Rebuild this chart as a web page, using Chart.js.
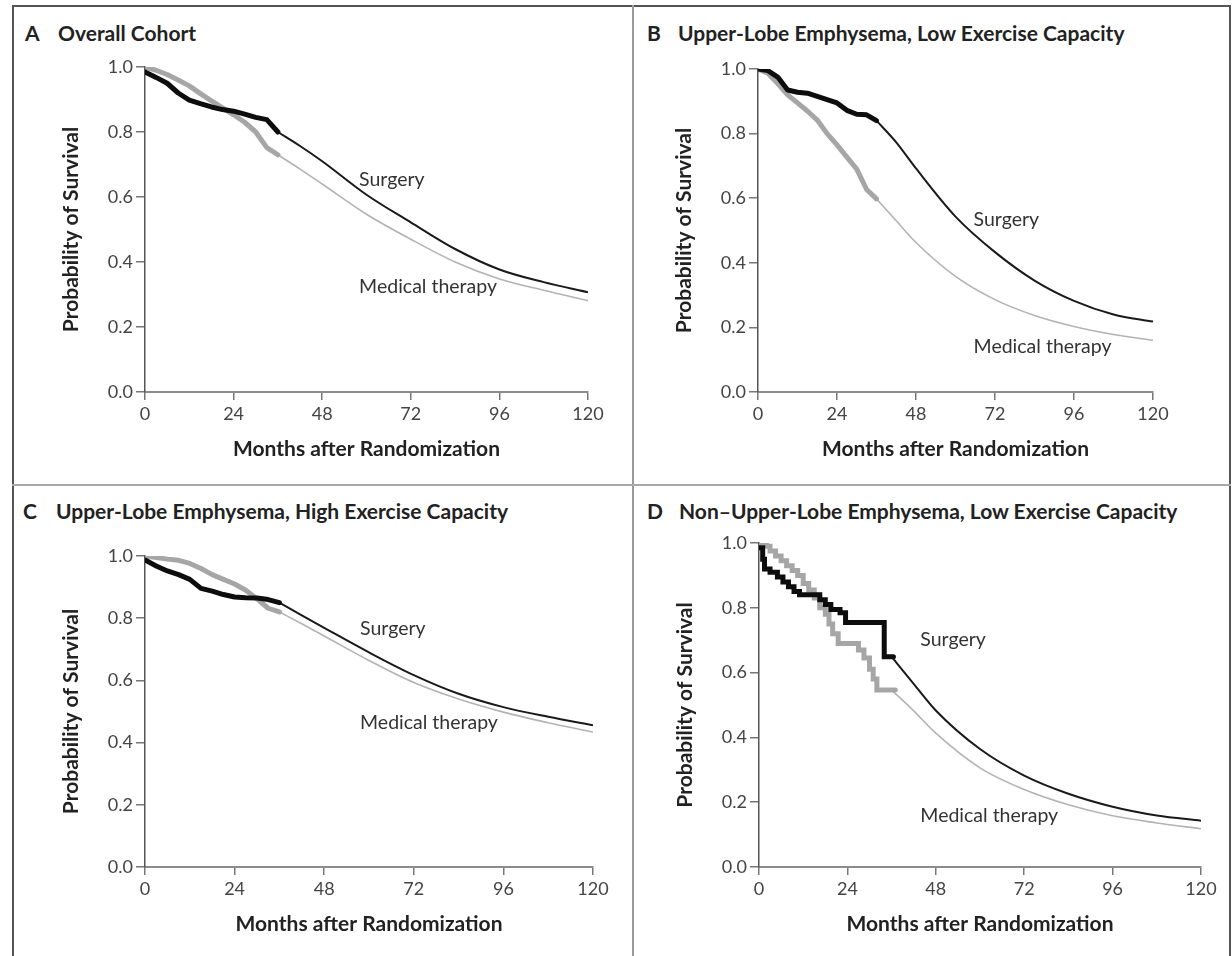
<!DOCTYPE html>
<html lang="en">
<head>
<meta charset="UTF-8">
<title>Survival by subgroup</title>
<script src="https://cdn.jsdelivr.net/npm/chart.js"></script>
<style>
  body { margin: 0; background: #fff; font-family: Lato, sans-serif; }
  #page { position: relative; width: 1232px; height: 956px; overflow: hidden; }
  .frame { position: absolute; left: 12px; top: 5px; width: 1219px; height: 960px;
           border: 2px solid #555; border-bottom: none; box-sizing: border-box; }
  .vline { position: absolute; left: 632px; top: 5px; width: 2px; height: 951px; background: #9a9a9a; }
  .hline { position: absolute; left: 12px; top: 484px; width: 1219px; height: 2px; background: #a8a8a8; }
  canvas { position: absolute; }
  .ttl { position: absolute; font-weight: 700; font-size: 21px; line-height: 24px; color: #222; white-space: nowrap; }
</style>
</head>
<body>
<div id="page">
  <div class="frame"></div>
  <div class="vline"></div>
  <div class="hline"></div>

  <span class="ttl" style="left:25px;top:21px">A</span>
  <span class="ttl" style="left:58px;top:21px">Overall Cohort</span>
  <span class="ttl" style="left:647px;top:21px">B</span>
  <span class="ttl" style="left:678px;top:21px">Upper-Lobe Emphysema, Low Exercise Capacity</span>
  <span class="ttl" style="left:23px;top:499px">C</span>
  <span class="ttl" style="left:56px;top:499px">Upper-Lobe Emphysema, High Exercise Capacity</span>
  <span class="ttl" style="left:647px;top:499px">D</span>
  <span class="ttl" style="left:679px;top:499px">Non–Upper-Lobe Emphysema, Low Exercise Capacity</span>

  <canvas id="chartA" width="633" height="485" style="left:0;top:0"></canvas>
  <canvas id="chartB" width="599" height="485" style="left:633px;top:0"></canvas>
  <canvas id="chartC" width="633" height="471" style="left:0;top:485px"></canvas>
  <canvas id="chartD" width="599" height="471" style="left:633px;top:485px"></canvas>
</div>

<script>
  // axes
  const xTicks = [0, 24, 48, 72, 96, 120];
  const yTicks = [0, 0.2, 0.4, 0.6, 0.8, 1.0];
  const yTickLabels = ['0.0', '0.2', '0.4', '0.6', '0.8', '1.0'];

  // Kaplan-Meier part (months 0-36) and projected part (36-120)
  const kmMonths = [0, 3, 6, 9, 12, 15, 18, 21, 24, 27, 30, 33, 36];
  const projMonths = [36, 42, 48, 60, 72, 84, 96, 108, 120];

  // A - overall cohort
  const surgKmA = [0.985, 0.968, 0.95, 0.92, 0.898, 0.887, 0.877, 0.869, 0.864, 0.855, 0.845, 0.838, 0.80];
  const medKmA = [1.0, 0.99, 0.977, 0.96, 0.942, 0.918, 0.896, 0.874, 0.853, 0.83, 0.80, 0.752, 0.73];
  const surgProjA = [0.80, 0.757, 0.71, 0.607, 0.522, 0.44, 0.377, 0.338, 0.307];
  const medProjA = [0.73, 0.686, 0.64, 0.547, 0.47, 0.40, 0.348, 0.313, 0.281];

  // B - upper-lobe, low exercise capacity
  const surgKmB = [1.0, 0.995, 0.975, 0.935, 0.928, 0.925, 0.915, 0.905, 0.895, 0.872, 0.86, 0.858, 0.84];
  const medKmB = [1.0, 0.987, 0.955, 0.92, 0.895, 0.87, 0.842, 0.80, 0.765, 0.727, 0.69, 0.627, 0.598];
  const surgProjB = [0.84, 0.773, 0.692, 0.543, 0.433, 0.345, 0.282, 0.24, 0.218];
  const medProjB = [0.598, 0.53, 0.463, 0.358, 0.286, 0.237, 0.203, 0.178, 0.16];

  // C - upper-lobe, high exercise capacity
  const surgKmC = [0.987, 0.968, 0.952, 0.94, 0.925, 0.896, 0.887, 0.876, 0.868, 0.866, 0.865, 0.86, 0.85];
  const medKmC = [1.0, 0.995, 0.99, 0.986, 0.976, 0.96, 0.94, 0.925, 0.91, 0.89, 0.862, 0.832, 0.82];
  const surgProjC = [0.85, 0.809, 0.769, 0.69, 0.617, 0.557, 0.514, 0.483, 0.456];
  const medProjC = [0.82, 0.782, 0.743, 0.664, 0.593, 0.54, 0.498, 0.464, 0.434];

  // D - non-upper-lobe, low exercise capacity (few patients, visible steps)
  const surgStepMonthsD = [0, 1, 1.5, 3, 5, 6.5, 8, 9.5, 11, 16.5, 18, 19.5, 22, 23.5, 34, 36.5];
  const surgStepD = [0.985, 0.95, 0.92, 0.91, 0.895, 0.88, 0.865, 0.85, 0.84, 0.825, 0.81, 0.795, 0.785, 0.755, 0.649, 0.649];
  const medStepMonthsD = [0, 2, 3, 4.5, 6, 7.5, 9, 10.5, 12, 13.5, 15, 16.5, 18, 19, 20, 21.5, 27, 28.5, 30, 31, 32, 37];
  const medStepD = [1.0, 0.99, 0.975, 0.96, 0.945, 0.93, 0.915, 0.9, 0.875, 0.855, 0.83, 0.80, 0.78, 0.75, 0.72, 0.69, 0.67, 0.645, 0.61, 0.58, 0.546, 0.546];
  const surgProjD = [0.649, 0.565, 0.483, 0.364, 0.282, 0.226, 0.186, 0.159, 0.143];
  const medProjD = [0.546, 0.482, 0.413, 0.306, 0.239, 0.192, 0.158, 0.136, 0.118];

  const pts = (xs, ys) => xs.map((x, i) => ({ x: x, y: ys[i] }));

  // text labels placed next to the curves, in data coordinates
  const curveLabels = {
    id: 'curveLabels',
    afterDatasetsDraw(chart, args, opts) {
      const ctx = chart.ctx;
      ctx.save();
      ctx.font = '19.5px Lato, sans-serif';
      ctx.fillStyle = '#333';
      ctx.textBaseline = 'middle';
      ctx.textAlign = 'left';
      (opts.items || []).forEach(it => {
        ctx.fillText(it.text, chart.scales.x.getPixelForValue(it.x), chart.scales.y.getPixelForValue(it.y));
      });
      ctx.restore();
    }
  };

  const tickFont = { family: 'Lato, sans-serif', size: 18 };
  const axisFont = { family: 'Lato, sans-serif', size: 21, weight: '700', lineHeight: 1.2 };

  function makePanel(id, p) {
    const surgKm = p.stepped ? pts(p.surgKmX, p.surgKm) : pts(kmMonths, p.surgKm);
    const medKm = p.stepped ? pts(p.medKmX, p.medKm) : pts(kmMonths, p.medKm);
    new Chart(document.getElementById(id), {
      type: 'line',
      data: {
        datasets: [
          { data: surgKm, borderColor: '#0d0d0d', borderWidth: 5, stepped: p.stepped,
            borderJoinStyle: p.stepped ? 'miter' : 'round', borderCapStyle: 'round', pointRadius: 0 },
          { data: pts(projMonths, p.surgProj), borderColor: '#1a1a1a', borderWidth: 2,
            cubicInterpolationMode: 'monotone', pointRadius: 0 },
          { data: medKm, borderColor: '#a6a6a6', borderWidth: 5, stepped: p.stepped,
            borderJoinStyle: p.stepped ? 'miter' : 'round', borderCapStyle: 'round', pointRadius: 0 },
          { data: pts(projMonths, p.medProj), borderColor: '#b3b3b3', borderWidth: 1.6,
            cubicInterpolationMode: 'monotone', pointRadius: 0 }
        ]
      },
      options: {
        responsive: false,
        animation: false,
        layout: { padding: p.pad },
        plugins: {
          legend: { display: false },
          tooltip: { enabled: false },
          curveLabels: { items: p.labels }
        },
        scales: {
          x: {
            type: 'linear', min: 0, max: 120,
            afterBuildTicks: s => { s.ticks = xTicks.map(v => ({ value: v })); },
            ticks: { font: tickFont, color: '#444', padding: 3, maxRotation: 0, autoSkip: false,
                     callback: v => String(v) },
            grid: { drawOnChartArea: false, tickLength: 8, color: '#777', lineWidth: 1.5 },
            border: { color: '#8c8c8c', width: 2 },
            title: { display: true, text: 'Months after Randomization', font: axisFont, color: '#222', padding: 0 },
            afterFit: s => { s.height = 70; }
          },
          y: {
            min: 0, max: 1,
            afterBuildTicks: s => { s.ticks = yTicks.map(v => ({ value: v })); },
            ticks: { font: tickFont, color: '#444', padding: 3, autoSkip: false,
                     callback: v => yTickLabels[yTicks.indexOf(v)] },
            grid: { drawOnChartArea: false, tickLength: 9, color: '#777', lineWidth: 1.5 },
            border: { color: '#555', width: 1.5 },
            title: { display: true, text: 'Probability of Survival', font: axisFont, color: '#222', padding: 0 },
            afterFit: s => { s.width = 86; }
          }
        }
      },
      plugins: [curveLabels]
    });
  }

  makePanel('chartA', {
    surgKm: surgKmA, medKm: medKmA, surgProj: surgProjA, medProj: medProjA,
    pad: { left: 59, right: 45, top: 67, bottom: 23 },
    labels: [{ text: 'Surgery', x: 58, y: 0.652 }, { text: 'Medical therapy', x: 58, y: 0.323 }]
  });
  makePanel('chartB', {
    surgKm: surgKmB, medKm: medKmB, surgProj: surgProjB, medProj: medProjB,
    pad: { left: 39, right: 79, top: 69, bottom: 23 },
    labels: [{ text: 'Surgery', x: 65.5, y: 0.532 }, { text: 'Medical therapy', x: 65.5, y: 0.139 }]
  });
  makePanel('chartC', {
    surgKm: surgKmC, medKm: medKmC, surgProj: surgProjC, medProj: medProjC,
    pad: { left: 59, right: 40, top: 71, bottom: 19 },
    labels: [{ text: 'Surgery', x: 57.6, y: 0.765 }, { text: 'Medical therapy', x: 57.6, y: 0.463 }]
  });
  makePanel('chartD', {
    stepped: true,
    surgKmX: surgStepMonthsD, surgKm: surgStepD, medKmX: medStepMonthsD, medKm: medStepD,
    surgProj: surgProjD, medProj: medProjD,
    pad: { left: 40, right: 31, top: 58, bottom: 19 },
    labels: [{ text: 'Surgery', x: 43.8, y: 0.70 }, { text: 'Medical therapy', x: 43.8, y: 0.157 }]
  });
</script>
</body>
</html>
